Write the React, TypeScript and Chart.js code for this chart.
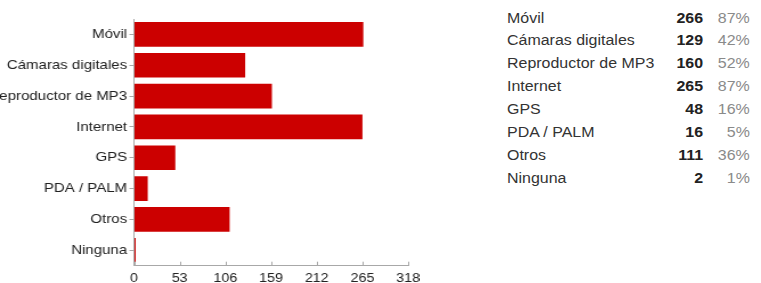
import React, { useEffect, useRef } from "react";
import { Chart, registerables } from "chart.js";

Chart.register(...registerables);

const categories = [
  "Móvil",
  "Cámaras digitales",
  "Reproductor de MP3",
  "Internet",
  "GPS",
  "PDA / PALM",
  "Otros",
  "Ninguna",
];
const counts = [266, 129, 160, 265, 48, 16, 111, 2];
const percents = ["87%", "42%", "52%", "87%", "16%", "5%", "36%", "1%"];
const xMin = 0;
const xMax = 318;
const xStep = 53;

const SX = 1.14;
const FONT = "'Liberation Sans', Arial, Helvetica, sans-serif";
const AXIS = "#a8a8a8";

const upTicks = {
  id: "upTicks",
  afterDraw(chart: any) {
    const x = chart.scales.x;
    const ctx = chart.ctx;
    const bottom = chart.chartArea.bottom;
    ctx.save();
    ctx.strokeStyle = AXIS;
    ctx.lineWidth = 1;
    x.ticks.forEach((t: any) => {
      const px = Math.round(x.getPixelForValue(t.value)) + 0.5;
      ctx.beginPath();
      ctx.moveTo(px, bottom);
      ctx.lineTo(px, bottom - 4);
      ctx.stroke();
    });
    ctx.restore();
  },
};

export default function App() {
  const ref = useRef<HTMLCanvasElement | null>(null);

  useEffect(() => {
    if (!ref.current) return;
    const chart = new Chart(ref.current, {
      type: "bar",
      data: {
        labels: categories,
        datasets: [
          {
            data: counts,
            backgroundColor: "#cc0000",
            borderWidth: 0,
            barPercentage: 0.8,
            categoryPercentage: 1,
          },
        ],
      },
      plugins: [upTicks],
      options: {
        indexAxis: "y",
        animation: false,
        responsive: true,
        maintainAspectRatio: false,
        layout: { padding: { top: 19, right: 10, bottom: 0, left: 0 } },
        plugins: {
          legend: { display: false },
          tooltip: { enabled: false },
        },
        scales: {
          x: {
            min: xMin,
            max: xMax,
            ticks: {
              stepSize: xStep,
              color: "#222",
              padding: 5,
              font: { family: FONT, size: 12.5 },
              maxRotation: 0,
              autoSkip: false,
            },
            grid: { drawOnChartArea: false, drawTicks: false },
            border: { display: true, color: AXIS, width: 1 },
            afterFit: (s: any) => {
              s.height = 17.3;
              s.paddingLeft = 0;
              s.paddingRight = 0;
            },
          },
          y: {
            ticks: {
              color: "#222",
              padding: 2,
              font: { family: FONT, size: 13.2 },
              autoSkip: false,
            },
            grid: {
              drawOnChartArea: false,
              drawTicks: true,
              tickLength: 4,
              color: AXIS,
              offset: false,
            },
            border: { display: true, color: AXIS, width: 1 },
            afterFit: (s: any) => {
              s.width = 117.5;
              s.paddingTop = 0;
              s.paddingBottom = 0;
            },
          },
        },
      },
    });
    return () => chart.destroy();
  }, []);

  const rowH = 22.9;

  return (
    <div style={{ position: "absolute", left: 0, top: 0, width: 761, height: 283, background: "#fff", overflow: "hidden" }}>
      <div
        style={{
          position: "absolute",
          left: 0,
          top: 0,
          width: 368,
          height: 283,
          transform: `scaleX(${SX})`,
          transformOrigin: "0 0",
        }}
      >
        <canvas ref={ref} />
      </div>
      <div
        style={{
          position: "absolute",
          left: 507,
          top: 6.5,
          width: 220,
          transform: `scaleX(${SX})`,
          transformOrigin: "0 0",
          fontFamily: FONT,
          fontSize: 14,
        }}
      >
        {categories.map((c, i) => (
          <div key={c} style={{ position: "relative", height: rowH, lineHeight: `${rowH}px`, whiteSpace: "nowrap" }}>
            <span style={{ position: "absolute", left: 0, color: "#333" }}>{c}</span>
            <span style={{ position: "absolute", right: 220 - 172, fontWeight: "bold", color: "#222" }}>{counts[i]}</span>
            <span style={{ position: "absolute", right: 220 - 213, color: "#8a8a8a" }}>{percents[i]}</span>
          </div>
        ))}
      </div>
    </div>
  );
}
